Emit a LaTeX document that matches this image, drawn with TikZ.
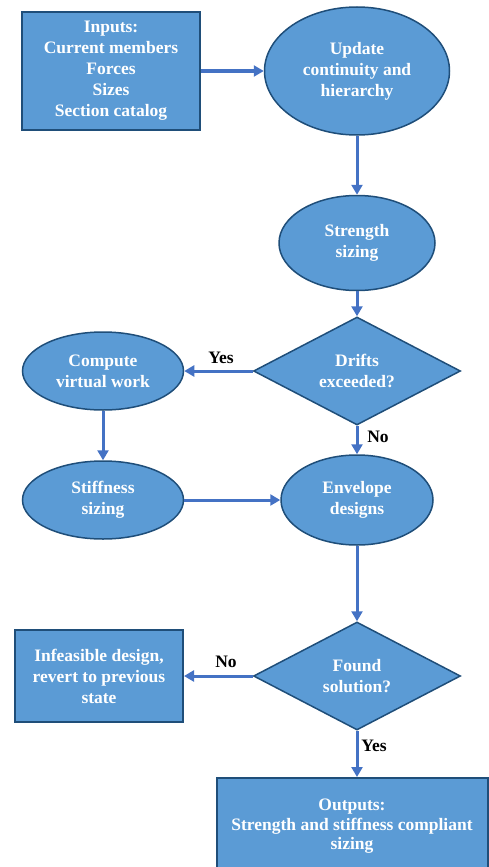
\documentclass[tikz,border=0pt]{standalone}
\usepackage{fontspec}
\setmainfont{Liberation Serif}
\usetikzlibrary{shapes.geometric,arrows.meta}
\definecolor{boxfill}{HTML}{5B9BD5}
\definecolor{boxline}{HTML}{1F4E79}
\definecolor{arrowc}{HTML}{4472C4}
\begin{document}
\begin{tikzpicture}[x=1pt,y=-1pt,
 base/.style={fill=boxfill, draw=boxline, text=white, font=\fontsize{17.5}{21}\selectfont\bfseries, align=center, inner sep=0pt},
 rectbox/.style={base, rectangle, line width=2pt},
 ellbox/.style={base, ellipse, line width=1.5pt},
 diabox/.style={base, diamond, line width=1.5pt},
 conn/.style={draw=arrowc, line width=3pt, -{Triangle[length=10pt,width=11pt]}},
 lbl/.style={font=\fontsize{17.5}{19}\selectfont\bfseries, text=black, inner sep=0pt}]
\useasboundingbox (0,0) rectangle (488,867);
\node[rectbox, minimum width=178pt, minimum height=118pt] (inputs) at (111,71) {Inputs:\\Current members\\Forces\\Sizes\\Section catalog};
\node[ellbox, minimum width=185pt, minimum height=128pt] (update) at (357,71) {Update\\continuity and\\hierarchy};
\node[ellbox, minimum width=156pt, minimum height=95pt] (strength) at (357,243) {Strength\\sizing};
\node[diabox, aspect=1.92, minimum width=207pt, minimum height=108pt] (drifts) at (357,371) {Drifts\\exceeded?};
\node[ellbox, minimum width=161pt, minimum height=78pt] (compute) at (103,371) {Compute\\virtual work};
\node[ellbox, minimum width=161pt, minimum height=78pt] (stiff) at (103,500) {Stiffness\\sizing};
\node[ellbox, minimum width=152pt, minimum height=90pt] (envelope) at (357,500) {Envelope\\designs};
\node[diabox, aspect=1.92, minimum width=207pt, minimum height=108pt] (found) at (357,676) {Found\\solution?};
\node[rectbox, minimum width=168pt, minimum height=92pt] (infeasible) at (99,676) {Infeasible design,\\revert to previous\\state};
\node[rectbox, minimum width=271pt, minimum height=96pt] (outputs) at (352,826) {\raisebox{4pt}{\begin{tabular}{@{}c@{}}Outputs:\\[-1.5pt]Strength and stiffness compliant\\[-1.5pt]sizing\end{tabular}}};
\draw[conn] (inputs.east) -- (update.west);
\draw[conn] (update.south) -- (strength.north);
\draw[conn] (strength.south) -- (drifts.north);
\draw[conn] (drifts.west) -- (compute.east);
\draw[conn] (drifts.south) -- (envelope.north);
\draw[conn] (compute.south) -- (stiff.north);
\draw[conn] (stiff.east) -- (envelope.west);
\draw[conn] (envelope.south) -- (found.north);
\draw[conn] (found.west) -- (infeasible.east);
\draw[conn] (found.south) -- (found.south |- outputs.north);
\node[lbl] (yes1) at (221,358) {Yes};
\node[lbl] (no1) at (378,437) {No};
\node[lbl] (no2) at (226,662) {No};
\node[lbl] (yes2) at (374,746) {Yes};
\end{tikzpicture}
\end{document}
